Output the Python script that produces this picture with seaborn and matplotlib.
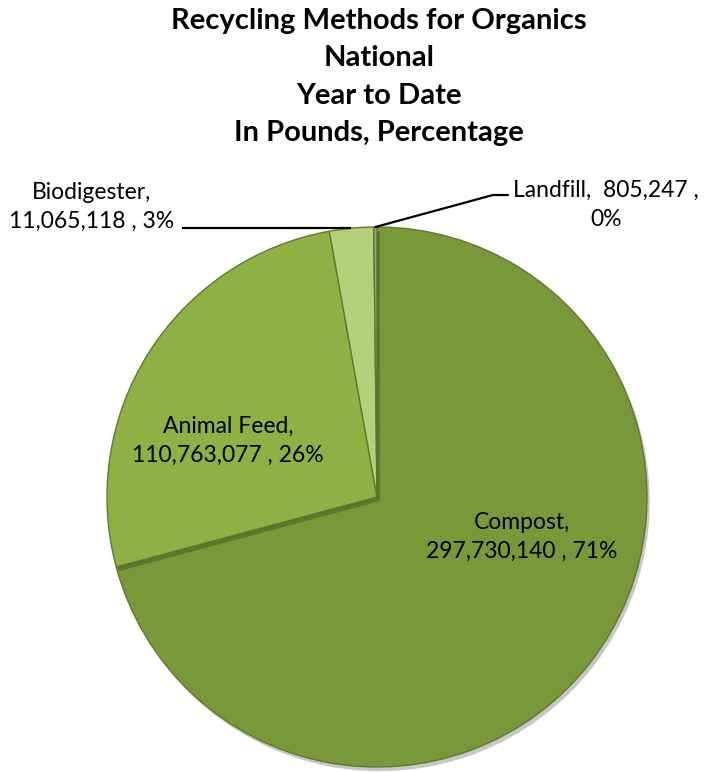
import numpy as np
import matplotlib
matplotlib.use("Agg")
import matplotlib.pyplot as plt
import matplotlib.patheffects as pe
import seaborn as sns

# ---- data ----
categories = ["Compost", "Animal Feed", "Biodigester", "Landfill"]
values = [297730140, 110763077, 11065118, 805247]
colors = ["#78983A", "#8DB144", "#B3D07A", "#98A48C"]
title_lines = ["Recycling Methods for Organics", "National", "Year to Date", "In Pounds, Percentage"]

sns.set_theme(style="white")
plt.rcParams['font.family'] = ['Lato', 'DejaVu Sans']

W, H = 710, 772
fig = plt.figure(figsize=(W / 100, H / 100), dpi=100)
fig.patch.set_facecolor("white")

cx, cy, R = 377, 497, 270
ax = fig.add_axes([(cx - R) / W, (H - cy - R) / H, 2 * R / W, 2 * R / H])

wedges, _ = ax.pie(values, colors=colors, startangle=90, counterclock=False,
                   radius=1.0,
                   wedgeprops=dict(edgecolor="#5E7A2E", linewidth=1.0))
for w in wedges:
    w.set_path_effects([pe.SimplePatchShadow(offset=(2, -3), alpha=0.22, shadow_rgbFace="black"),
                        pe.Normal()])
ax.set_xlim(-1, 1)
ax.set_ylim(-1, 1)
ax.set_aspect("equal")
ax.axis("off")

total = sum(values)
pcts = [v / total * 100 for v in values]

def px(x, y):
    return (x - cx) / R, (cy - y) / R

fs = 16.5
ls = 1.45
# Compost label
x, y = px(522, 537)
ax.text(x, y, f"{categories[0]},\n{values[0]:,} , {pcts[0]:.0f}%", ha="center", va="center",
        fontsize=fs, linespacing=ls, color="black")
# Animal feed label
x, y = px(228, 441)
ax.text(x, y, f"{categories[1]},\n{values[1]:,} , {pcts[1]:.0f}%", ha="center", va="center",
        fontsize=fs, linespacing=ls, color="black")
# Biodigester label
x, y = px(92, 207)
ax.text(x, y, f"{categories[2]},\n{values[2]:,} , {pcts[2]:.0f}%", ha="center", va="center",
        fontsize=fs, linespacing=ls, color="black", clip_on=False)
# Landfill label
x, y = px(606, 205)
ax.text(x, y, f"{categories[3]},  {values[3]:,} ,\n{pcts[3]:.0f}%", ha="center", va="center",
        fontsize=fs, linespacing=ls, color="black", clip_on=False)

def mid(w):
    a = np.deg2rad((w.theta1 + w.theta2) / 2)
    return np.cos(a), np.sin(a)

# leader lines
bx, by = mid(wedges[2])
ex, _ = px(182, 229)
ax.plot([bx, ex], [by, by], color="black", lw=1.6, clip_on=False, solid_capstyle="butt")
lx, ly = mid(wedges[3])
kx, ky = px(493, 195)
hx, _ = px(508, 195)
ax.plot([lx, kx, hx], [ly, ky, ky], color="black", lw=1.6, clip_on=False)

fig.text(379 / W, 1 - 77 / H, "\n".join(title_lines), ha="center", va="center",
         fontsize=21, fontweight="bold", linespacing=1.55, color="black")

fig.savefig("out.png", dpi=100, facecolor="white")
